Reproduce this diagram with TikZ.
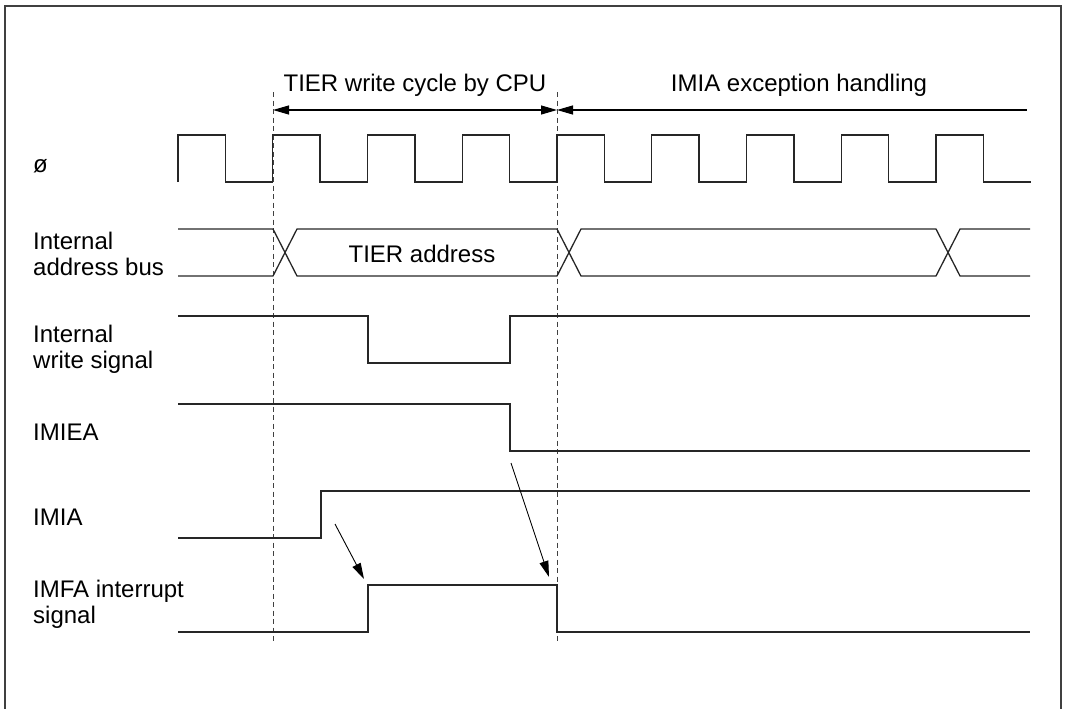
\documentclass[tikz,border=0pt]{standalone}
\usepackage{fontspec}
\setmainfont{Liberation Sans}
\usetikzlibrary{arrows.meta}

\begin{document}
\begin{tikzpicture}[x=1pt, y=-1pt,
    every node/.style={font=\fontsize{24}{26}\selectfont, inner sep=0pt},
    sig/.style={line width=1.3pt, black!85},
    guide/.style={line width=0.9pt, black!75, dash pattern=on 5pt off 3.5pt},
    phase/.style={line width=1.1pt},
    cause/.style={line width=0.9pt, -{Triangle[length=16pt,width=9pt]}},
    lbl/.style={align=left, anchor=base west}]
    \useasboundingbox (0,0) rectangle (1065,709);
    % frame, open at the bottom
    \draw[line width=1.8pt, black!75] (5,740) -- (5,6) -- (1061,6) -- (1061,740);

    % phases
    \coordinate (t0) at (273,110);
    \coordinate (t1) at (557,110);
    \coordinate (t2) at (1027,110);
    \draw[phase, {Triangle[length=16pt,width=9pt]}-{Triangle[length=16pt,width=9pt]}] (t0) -- (t1);
    \draw[phase, {Triangle[length=16pt,width=9pt]}-] (t1) -- (t2);
    \node[anchor=base] (cpu) at (415,91) {TIER write cycle by CPU};
    \node[anchor=base] (exc) at (799,91) {IMIA exception handling};

    % guide lines
    \draw[guide] (273,92) -- (273,642);
    \draw[guide] (557,92) -- (557,642);

    % clock
    \draw[sig] (178,182) \foreach \k in {0,...,8} {
        -- ++(0,-47) -- ++(47.375,0) -- ++(0,47) -- ++(47.375,0)};

    % address bus
    \draw[sig] (178,229) -- (273,229) -- (297,276) -- (557,276) -- (581,229)
        -- (936,229) -- (960,276) -- (1030,276);
    \draw[sig] (178,276) -- (273,276) -- (297,229) -- (557,229) -- (581,276)
        -- (936,276) -- (960,229) -- (1030,229);
    \node (addr) at (422,254) {TIER address};

    % write signal
    \draw[sig] (178,316) -- (368,316) -- (368,363) -- (510,363) -- (510,316) -- (1030,316);
    % IMIEA
    \draw[sig] (178,404) -- (510,404) -- (510,451) -- (1030,451);
    % IMIA
    \draw[sig] (178,538) -- (321,538) -- (321,491) -- (1030,491);
    % IMFA
    \draw[sig] (178,632) -- (368,632) -- (368,585) -- (557,585) -- (557,632) -- (1030,632);

    % cause and effect
    \coordinate (imia) at (335,524);
    \coordinate (set) at (364,579);
    \coordinate (imiea) at (511,463);
    \coordinate (clr) at (549,577);
    \draw[cause] (imia) -- (set);
    \draw[cause] (imiea) -- (clr);

    % signal names (base = last line)
    \node[lbl] (phi) at (33,172) {ø};
    \node[lbl] (bus) at (33,275) {Internal\\address bus};
    \node[lbl] (wr) at (33,368) {Internal\\write signal};
    \node[lbl] (ena) at (33,440) {IMIEA};
    \node[lbl] (flag) at (33,525) {IMIA};
    \node[lbl] (irq) at (33,623) {IMFA interrupt\\signal};
\end{tikzpicture}
\end{document}
